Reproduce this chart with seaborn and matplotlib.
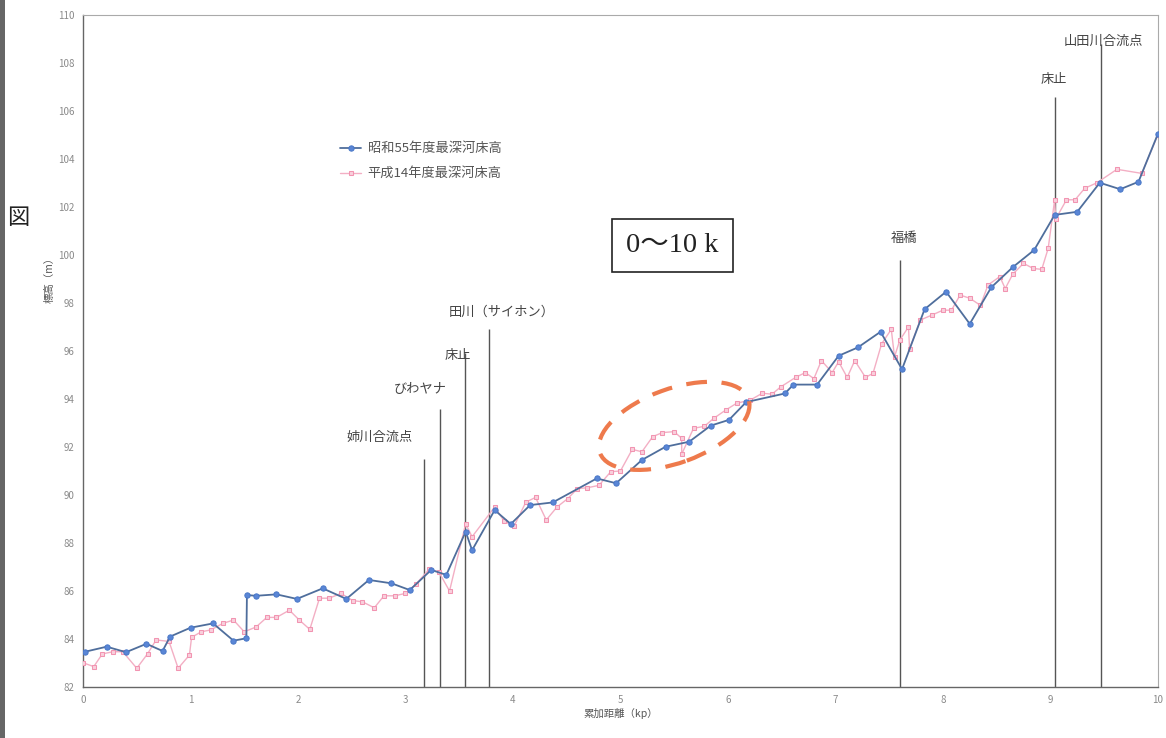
import numpy as np
import pandas as pd
import matplotlib
matplotlib.use("Agg")
import matplotlib.pyplot as plt
from matplotlib.patches import Ellipse, Rectangle
from matplotlib.transforms import ScaledTranslation
import seaborn as sns

# 昭和55年度 最深河床高 (distance km, elevation m)
s55_km = [0.02, 0.22, 0.40, 0.59, 0.74, 0.81, 1.00, 1.21, 1.40, 1.52, 1.525, 1.61, 1.80,
          1.99, 2.23, 2.45, 2.66, 2.87, 3.04, 3.24, 3.38, 3.56, 3.62, 3.83, 3.98, 4.16,
          4.37, 4.78, 4.96, 5.20, 5.42, 5.64, 5.84, 6.01, 6.17, 6.53, 6.61, 6.83, 7.03,
          7.21, 7.42, 7.62, 7.83, 8.03, 8.25, 8.45, 8.65, 8.85, 9.04, 9.25, 9.46, 9.65,
          9.82, 10.0]
s55_elev = [83.47, 83.68, 83.45, 83.80, 83.50, 84.10, 84.47, 84.65, 83.93, 84.03, 85.83, 85.80,
            85.86, 85.67, 86.11, 85.67, 86.46, 86.32, 86.04, 86.88, 86.67, 88.47, 87.70,
            89.37, 88.79, 89.58, 89.69, 90.69, 90.49, 91.46, 92.01, 92.22, 92.89, 93.13,
            93.87, 94.23, 94.60, 94.60, 95.80, 96.15, 96.80, 95.24, 97.74, 98.47, 97.13,
            98.65, 99.49, 100.21, 101.67, 101.80, 103.01, 102.74, 103.05, 105.04]

# 平成14年度 最深河床高
h14_km = [0.00, 0.10, 0.18, 0.28, 0.37, 0.50, 0.60, 0.68, 0.80, 0.885, 0.99, 1.01, 1.10,
          1.19, 1.30, 1.40, 1.50, 1.61, 1.71, 1.80, 1.92, 2.01, 2.11, 2.20, 2.29, 2.40,
          2.51, 2.60, 2.71, 2.80, 2.90, 3.00, 3.10, 3.22, 3.31, 3.41, 3.56, 3.62, 3.83,
          3.92, 4.01, 4.12, 4.21, 4.31, 4.41, 4.51, 4.60, 4.69, 4.80, 4.91, 5.00, 5.11,
          5.20, 5.30, 5.39, 5.50, 5.57, 5.57, 5.68, 5.78, 5.87, 5.98, 6.08, 6.21, 6.32,
          6.41, 6.49, 6.63, 6.72, 6.80, 6.87, 6.97, 7.03, 7.11, 7.18, 7.28, 7.35, 7.43,
          7.52, 7.55, 7.60, 7.68, 7.69, 7.79, 7.90, 8.00, 8.08, 8.16, 8.25, 8.35, 8.42,
          8.53, 8.58, 8.65, 8.75, 8.84, 8.92, 8.98, 9.04, 9.05, 9.15, 9.23, 9.32, 9.43,
          9.62, 9.85, 10.0]
h14_elev = [83.01, 82.85, 83.38, 83.47, 83.47, 82.78, 83.38, 83.96, 83.90, 82.78, 83.33, 84.07,
            84.30, 84.38, 84.65, 84.79, 84.30, 84.50, 84.90, 84.90, 85.20, 84.80, 84.40,
            85.70, 85.70, 85.90, 85.60, 85.55, 85.30, 85.80, 85.80, 85.90, 86.30, 86.90,
            86.80, 86.00, 88.80, 88.26, 89.50, 88.90, 88.70, 89.70, 89.90, 88.96, 89.50,
            89.85, 90.27, 90.30, 90.40, 90.97, 91.00, 91.90, 91.80, 92.43, 92.60, 92.64,
            92.36, 91.70, 92.78, 92.86, 93.20, 93.54, 93.82, 93.96, 94.24, 94.20, 94.50,
            94.90, 95.10, 94.85, 95.60, 95.10, 95.55, 94.90, 95.60, 94.90, 95.07, 96.30,
            96.90, 95.76, 96.46, 97.00, 96.10, 97.29, 97.50, 97.70, 97.70, 98.33, 98.20,
            97.90, 98.75, 99.10, 98.60, 99.20, 99.65, 99.44, 99.40, 100.28, 102.30, 101.50,
            102.30, 102.30, 102.78, 103.00, 103.57, 103.40, 105.00]

# Facilities along the river: name, position (km), line top (m), label x, label y
fac_names = ["姉川合流点", "びわヤナ", "床止", "田川（サイホン）", "福橋", "床止", "山田川合流点"]
fac_km = [3.17, 3.32, 3.55, 3.78, 7.60, 9.04, 9.47]
fac_top = [91.5, 93.6, 95.9, 96.9, 99.8, 106.6, 108.8]
fac_lab_x = [2.76, 3.14, 3.49, 3.90, 7.64, 9.03, 9.49]
fac_lab_y = [92.4, 94.4, 95.8, 97.6, 100.7, 107.3, 108.9]

x_ticks = list(range(0, 11))
y_ticks = list(range(82, 111, 2))

sns.set_style("white")
plt.rcParams["font.family"] = ["Noto Sans CJK JP", "DejaVu Sans"]

fig = plt.figure(figsize=(11.66, 7.38), dpi=100)
ax = fig.add_axes([0.0712, 0.0691, 0.9218, 0.9106])

df55 = pd.DataFrame({"km": s55_km, "elev": s55_elev})
df14 = pd.DataFrame({"km": h14_km, "elev": h14_elev})

sns.lineplot(data=df14, x="km", y="elev", ax=ax, sort=False, estimator=None,
             color="#f3afc4", linewidth=1.0, marker="s", markersize=3.0,
             markeredgecolor="#f294b1", markerfacecolor="#f9d0dc",
             label="平成14年度最深河床高", zorder=3)
sns.lineplot(data=df55, x="km", y="elev", ax=ax, sort=False, estimator=None,
             color="#4f6e9c", linewidth=1.3, marker="o", markersize=3.8,
             markeredgecolor="#4a78c8", markerfacecolor="#5a86d6",
             label="昭和55年度最深河床高", zorder=4)

# Vertical facility lines and labels
for name, km, top, lx, ly in zip(fac_names, fac_km, fac_top, fac_lab_x, fac_lab_y):
    ax.vlines(km, 82, top, color="#555555", linewidth=1.0, zorder=2)
    ax.text(lx, ly, name, ha="center", va="center", fontsize=9.5, color="#444444")

ax.set_xlim(0, 10)
ax.set_ylim(82, 110)
ax.set_xticks(x_ticks)
ax.set_yticks(y_ticks)
ax.tick_params(axis="both", labelsize=7, colors="#8a8a8a", length=0, pad=6)
ax.set_xlabel("累加距離（kp）", fontsize=7.5, color="#555555", labelpad=2)
ax.set_ylabel("標高（m）", fontsize=7.5, color="#555555")
ax.yaxis.set_label_coords(-0.026, 0.61)

for side in ["left", "bottom"]:
    ax.spines[side].set_color("#666666")
    ax.spines[side].set_linewidth(1.0)
for side in ["top", "right"]:
    ax.spines[side].set_color("#aaaaaa")
    ax.spines[side].set_linewidth(0.8)

# Legend: Showa series listed first
handles, labels = ax.get_legend_handles_labels()
order = [labels.index("昭和55年度最深河床高"), labels.index("平成14年度最深河床高")]
leg = ax.legend([handles[i] for i in order], [labels[i] for i in order],
                loc="upper left", bbox_to_anchor=(0.228, 0.828), frameon=False,
                fontsize=9.5, handlelength=1.6, handletextpad=0.5, labelspacing=0.9)
for t in leg.get_texts():
    t.set_color("#555555")

# Section box
ax.text(5.48, 100.4, "0～10 k", ha="center", va="center", fontsize=20.5,
        family=["Liberation Serif", "Noto Sans CJK JP"], color="#222222",
        bbox=dict(boxstyle="square,pad=0.5", facecolor="white", edgecolor="#222222",
                  linewidth=1.2))

# Highlight ellipse around the 5-6 km reach
trans = fig.dpi_scale_trans + ScaledTranslation(5.50, 92.88, ax.transData)
ax.add_patch(Ellipse((0, 0), 1.58, 0.74, angle=20, transform=trans, fill=False,
                     edgecolor="#ee7a4c", linewidth=3.0, linestyle=(0, (5, 3.5)),
                     zorder=5))

fig.text(0.016, 0.705, "図", fontsize=16, color="#222222", ha="center", va="center")
fig.patches.append(Rectangle((0, 0), 0.004, 1, transform=fig.transFigure,
                             facecolor="#666666", edgecolor="none"))

fig.savefig("out.png", dpi=100)
